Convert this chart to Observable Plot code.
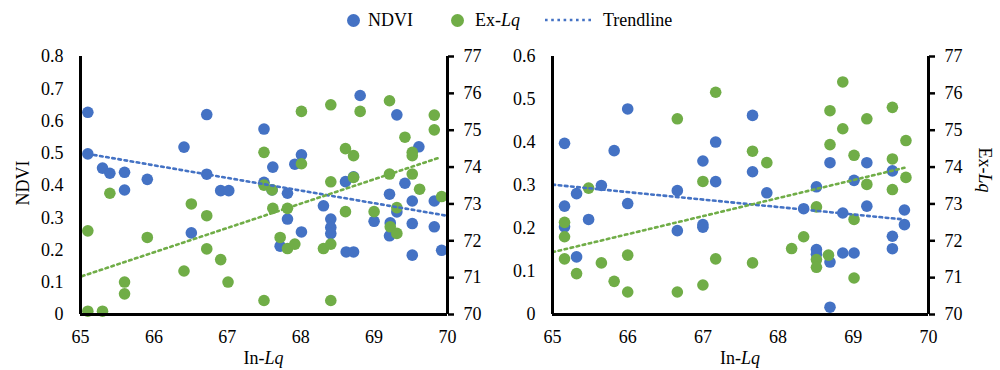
<!DOCTYPE html>
<html>
<head>
<meta charset="utf-8">
<script src="https://cdn.jsdelivr.net/npm/d3@7"></script>
<script src="https://cdn.jsdelivr.net/npm/@observablehq/plot@0.6"></script>
<style>
  html, body { margin: 0; padding: 0; background: #fff; overflow: hidden; }
  #wrap { position: relative; width: 1000px; height: 370px; font-family: "Liberation Serif", "DejaVu Serif", serif; }
  #wrap svg text { font-family: "Liberation Serif", "DejaVu Serif", serif !important; }
  .lg { position: absolute; top: 9px; height: 22px; line-height: 22px; font-size: 18px; color: #000; white-space: nowrap;
        font-family: "Liberation Serif", "DejaVu Serif", serif; }
  .sw { position: absolute; top: 14px; width: 13px; height: 13px; border-radius: 50%; }
</style>
</head>
<body>
<div id="wrap">
  <span class="sw" style="left:347px;background:#4472C4"></span><span class="lg" style="left:368px">NDVI</span>
  <span class="sw" style="left:451px;background:#70AD47"></span><span class="lg" style="left:475px">Ex-<i>Lq</i></span>
  <svg width="50" height="6" style="position:absolute;left:544px;top:17px"><line x1="1" y1="3" x2="49" y2="3" stroke="#4472C4" stroke-width="2.6" stroke-dasharray="2.6,3.6"/></svg>
  <span class="lg" style="left:603px">Trendline</span>
</div>
<script>
// ---------- data ----------
const xTicks = [65, 66, 67, 68, 69, 70];
const exTicks = [70, 71, 72, 73, 74, 75, 76, 77];
const leftNdviTicks = [0, 0.1, 0.2, 0.3, 0.4, 0.5, 0.6, 0.7, 0.8];
const rightNdviTicks = [0, 0.1, 0.2, 0.3, 0.4, 0.5, 0.6];

// Left panel: NDVI points
const leftBlueX = [65.10, 65.10, 65.30, 65.40, 65.60, 65.60, 65.91, 66.41, 66.51, 66.72, 66.72, 66.91, 67.02,
  67.50, 67.62, 67.92, 68.01, 68.81, 69.31, 69.61, 67.50, 67.61, 67.82, 67.82, 68.01, 67.72, 68.31, 68.41,
  68.41, 68.41, 68.61, 68.72, 68.62, 68.72, 69.00, 69.21, 69.21, 69.22, 69.31, 69.42, 69.52, 69.52, 69.52,
  69.82, 69.82, 69.92];
const leftNdvi = [0.627, 0.498, 0.454, 0.438, 0.441, 0.386, 0.419, 0.519, 0.253, 0.620, 0.435, 0.384, 0.384,
  0.575, 0.457, 0.466, 0.495, 0.679, 0.619, 0.520, 0.410, 0.386, 0.376, 0.296, 0.256, 0.212, 0.337, 0.296,
  0.270, 0.251, 0.412, 0.427, 0.194, 0.194, 0.289, 0.373, 0.244, 0.284, 0.318, 0.407, 0.352, 0.282, 0.184,
  0.352, 0.272, 0.199];

// Left panel: Ex-Lq points
const leftGreenX = [65.10, 65.10, 65.30, 65.40, 65.60, 65.60, 65.91, 66.41, 66.51, 66.72, 66.72, 66.91, 67.01,
  67.50, 67.50, 67.50, 67.61, 67.62, 67.72, 67.82, 67.82, 67.92, 68.01, 68.01, 68.31, 68.41, 68.41, 68.41,
  68.41, 68.61, 68.61, 68.72, 68.72, 68.81, 69.00, 69.21, 69.21, 69.22, 69.31, 69.31, 69.42, 69.52, 69.52,
  69.52, 69.62, 69.82, 69.82, 69.92];
const leftEx = [72.27, 70.09, 70.09, 73.29, 70.88, 70.56, 72.09, 71.18, 73.00, 72.68, 71.78, 71.49, 70.88,
  74.40, 73.51, 70.38, 73.38, 72.88, 72.09, 72.88, 71.79, 71.91, 75.51, 74.09, 71.79, 75.69, 73.60, 71.91,
  70.38, 74.50, 72.79, 74.31, 73.72, 75.51, 72.79, 75.80, 73.81, 72.38, 72.90, 72.20, 74.81, 74.40, 74.31,
  73.81, 73.40, 75.41, 75.01, 73.20];

// Right panel: NDVI points
const rightBlueX = [65.16, 65.16, 65.16, 65.32, 65.32, 65.48, 65.65, 65.82, 66.00, 66.00, 66.66, 66.66, 67.00,
  67.00, 67.00, 67.17, 67.17, 67.66, 67.66, 67.85, 68.34, 68.51, 68.51, 68.51, 68.69, 68.69, 68.69, 68.86,
  68.86, 69.01, 69.01, 69.18, 69.18, 69.52, 69.52, 69.52, 69.68, 69.68];
const rightNdvi = [0.398, 0.252, 0.204, 0.281, 0.134, 0.221, 0.300, 0.381, 0.478, 0.258, 0.288, 0.195, 0.357,
  0.209, 0.203, 0.401, 0.309, 0.463, 0.332, 0.283, 0.246, 0.297, 0.151, 0.140, 0.353, 0.122, 0.017, 0.236,
  0.143, 0.312, 0.143, 0.353, 0.252, 0.334, 0.182, 0.153, 0.243, 0.209];

// Right panel: Ex-Lq points
const rightGreenX = [65.16, 65.16, 65.16, 65.32, 65.48, 65.65, 65.82, 66.00, 66.00, 66.66, 66.66, 67.00, 67.00,
  67.17, 67.17, 67.66, 67.66, 67.85, 68.18, 68.34, 68.51, 68.51, 68.51, 68.67, 68.69, 68.69, 68.86, 68.86,
  69.01, 69.01, 69.01, 69.18, 69.18, 69.52, 69.52, 69.52, 69.70, 69.70];
const rightEx = [72.50, 72.11, 71.51, 71.11, 73.43, 71.40, 70.90, 71.61, 70.61, 75.31, 70.61, 73.61, 70.80,
  76.03, 71.51, 74.43, 71.40, 74.12, 71.79, 72.11, 72.92, 71.49, 71.28, 71.61, 75.53, 74.61, 76.31, 75.04,
  74.32, 72.58, 70.99, 75.31, 73.53, 75.62, 74.22, 73.39, 74.72, 73.72];

// Trendlines (endpoints: In-Lq, value)
const leftBlueTrendX = [65.10, 70.00];
const leftBlueTrend = [0.498, 0.306];
const leftGreenTrendX = [65.02, 69.91];
const leftGreenTrend = [71.04, 74.27];
const rightBlueTrendX = [65.00, 69.67];
const rightBlueTrend = [0.302, 0.221];
const rightGreenTrendX = [65.00, 69.68];
const rightGreenTrend = [71.69, 73.98];

// ---------- drawing ----------
const BLUE = "#4472C4", GREEN = "#70AD47";
const FONT = "'Liberation Serif', 'DejaVu Serif', serif";

function panel({left, width, marginLeft, marginRight, ndviMax, ndviTicks, bx, by, gx, gy,
                btx, bty, gtx, gty, leftLabel, rightLabel}) {
  const exToY = d3.scaleLinear([70, 77], [0, ndviMax]);
  const blue = bx.map((x, i) => ({x, y: by[i]}));
  const green = gx.map((x, i) => ({x, y: exToY(gy[i])}));
  const blueTrend = btx.map((x, i) => ({x, y: bty[i]}));
  const greenTrend = gtx.map((x, i) => ({x, y: exToY(gty[i])}));
  const fmt = d => d === 0 ? "0" : d3.format(".1f")(d);
  const dotted = {strokeWidth: 2.6, strokeDasharray: "2.6,3.6"};
  const svg = Plot.plot({
    width, height: 370,
    marginTop: 56, marginBottom: 56, marginLeft, marginRight,
    style: {fontFamily: FONT, fontSize: "18px", background: "transparent", color: "#000"},
    x: {domain: [65, 70]},
    y: {domain: [0, ndviMax]},
    marks: [
      Plot.axisY(ndviTicks, {anchor: "left", tickSize: 0, tickPadding: 17, tickFormat: fmt, fontSize: 18, fontFamily: FONT, label: null}),
      Plot.axisY(exTicks.map(exToY), {anchor: "right", tickSize: 6, tickPadding: 10, strokeWidth: 2.5,
        tickFormat: d => String(Math.round(exToY.invert(d))), fontSize: 18, fontFamily: FONT, label: null}),
      Plot.axisX(xTicks, {tickSize: 0, tickPadding: 16, fontSize: 18, fontFamily: FONT, label: null}),
      Plot.dot(blue, {x: "x", y: "y", r: 5.8, fill: BLUE}),
      Plot.dot(green, {x: "x", y: "y", r: 5.8, fill: GREEN}),
      Plot.line(blueTrend, {x: "x", y: "y", stroke: BLUE, ...dotted}),
      Plot.line(greenTrend, {x: "x", y: "y", stroke: GREEN, ...dotted}),
      Plot.ruleY([0], {strokeWidth: 3, stroke: "#000"}),
      Plot.ruleX([65], {strokeWidth: 3, stroke: "#000"}),
      Plot.ruleX([70], {strokeWidth: 3, stroke: "#000"})
    ]
  });
  svg.style.position = "absolute";
  svg.style.top = "0px";
  svg.style.left = left + "px";
  const s = d3.select(svg);
  const cx = marginLeft + (width - marginLeft - marginRight) / 2;
  const xl = s.append("text").attr("x", cx).attr("y", 364).attr("text-anchor", "middle")
    .attr("font-size", 18).attr("font-family", FONT).attr("fill", "#000");
  xl.append("tspan").text("In-");
  xl.append("tspan").attr("font-style", "italic").text("Lq");
  if (leftLabel) {
    s.append("text").attr("transform", "translate(23,183) rotate(-90)").attr("text-anchor", "middle")
      .attr("dy", "0.35em").attr("font-size", 18).attr("font-family", FONT).attr("fill", "#000").text(leftLabel);
  }
  if (rightLabel) {
    const t = s.append("text").attr("transform", `translate(${width - 15},170) rotate(90)`).attr("text-anchor", "middle")
      .attr("dy", "0.35em").attr("font-size", 18).attr("font-family", FONT).attr("fill", "#000");
    t.append("tspan").text("Ex-");
    t.append("tspan").attr("font-style", "italic").text("Lq");
  }
  return svg;
}

const wrap = document.getElementById("wrap");
wrap.appendChild(panel({left: 0, width: 500, marginLeft: 80, marginRight: 53, ndviMax: 0.8, ndviTicks: leftNdviTicks,
  bx: leftBlueX, by: leftNdvi, gx: leftGreenX, gy: leftEx,
  btx: leftBlueTrendX, bty: leftBlueTrend, gtx: leftGreenTrendX, gty: leftGreenTrend,
  leftLabel: "NDVI", rightLabel: null}));
wrap.appendChild(panel({left: 500, width: 500, marginLeft: 52, marginRight: 72, ndviMax: 0.6, ndviTicks: rightNdviTicks,
  bx: rightBlueX, by: rightNdvi, gx: rightGreenX, gy: rightEx,
  btx: rightBlueTrendX, bty: rightBlueTrend, gtx: rightGreenTrendX, gty: rightGreenTrend,
  leftLabel: null, rightLabel: true}));
</script>
</body>
</html>
